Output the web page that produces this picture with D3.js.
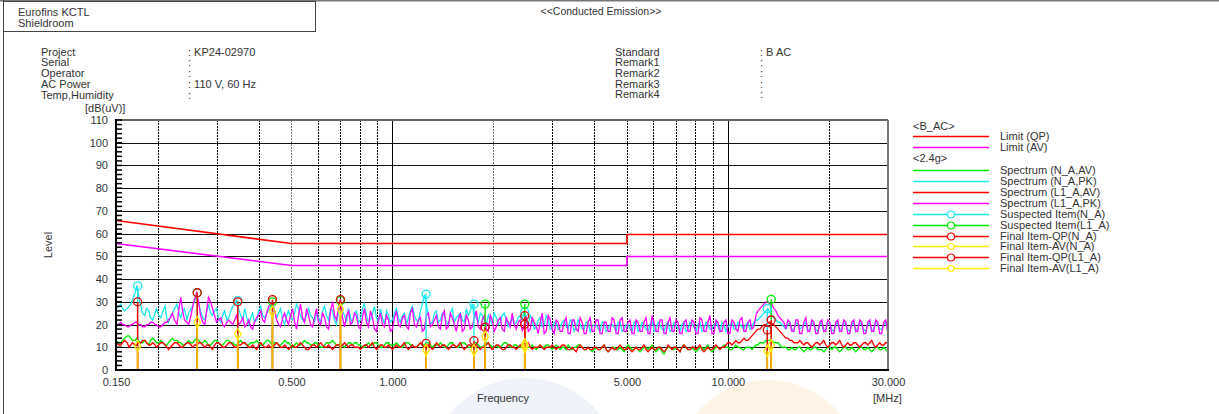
<!DOCTYPE html>
<html><head><meta charset="utf-8">
<script src="https://cdn.jsdelivr.net/npm/d3@7"></script>
<style>
body{margin:0;background:#fff;overflow:hidden}
text{font-family:"Liberation Sans",Arial,sans-serif;font-size:11px;fill:#333}
</style>
</head><body>
<svg id="chart" width="1219" height="414"></svg>
<script>
// ---------- data ----------
// sweep points (MHz)
const freqMHz = [
0.150,0.155,0.159,0.164,0.168,0.173,0.178,0.183,0.188,0.193,
0.198,0.204,0.210,0.215,0.221,0.228,0.234,0.240,0.247,0.254,
0.261,0.268,0.276,0.283,0.291,0.299,0.308,0.316,0.325,0.334,
0.343,0.353,0.363,0.373,0.383,0.394,0.405,0.416,0.428,0.439,
0.452,0.464,0.477,0.490,0.504,0.518,0.532,0.547,0.562,0.578,
0.594,0.611,0.628,0.645,0.663,0.681,0.700,0.720,0.740,0.760,
0.781,0.803,0.825,0.848,0.872,0.896,0.921,0.947,0.973,1.000,
1.028,1.056,1.086,1.116,1.147,1.179,1.212,1.245,1.280,1.315,
1.352,1.390,1.428,1.468,1.509,1.551,1.594,1.638,1.683,1.730,
1.778,1.828,1.879,1.931,1.984,2.040,2.096,2.154,2.214,2.276,
2.339,2.404,2.471,2.540,2.610,2.683,2.757,2.834,2.913,2.994,
3.077,3.162,3.250,3.340,3.433,3.529,3.627,3.728,3.831,3.938,
4.047,4.160,4.275,4.394,4.516,4.642,4.771,4.903,5.039,5.179,
5.323,5.471,5.623,5.780,5.940,6.105,6.275,6.449,6.629,6.813,
7.002,7.197,7.397,7.602,7.814,8.031,8.254,8.483,8.719,8.962,
9.211,9.467,9.730,10.00,10.28,10.56,10.86,11.16,11.47,11.79,
12.12,12.45,12.80,13.16,13.52,13.90,14.28,14.68,15.09,15.51,
15.94,16.38,16.83,17.30,17.78,18.28,18.79,19.31,19.84,20.40,
20.96,21.54,22.14,22.76,23.39,24.04,24.71,25.40,26.10,26.83,
27.57,28.34,29.13,29.94,30.00];

// interleaved sweep points (MHz)
const freqMid = [
0.153,0.157,0.162,0.166,0.171,0.175,0.180,0.185,0.190,0.196,
0.201,0.207,0.213,0.218,0.224,0.231,0.237,0.244,0.251,0.257,
0.265,0.272,0.280,0.287,0.295,0.303,0.312,0.321,0.330,0.339,
0.348,0.358,0.368,0.378,0.388,0.399,0.410,0.422,0.433,0.445,
0.458,0.471,0.484,0.497,0.511,0.525,0.540,0.555,0.570,0.586,
0.602,0.619,0.636,0.654,0.672,0.691,0.710,0.730,0.750,0.771,
0.792,0.814,0.837,0.860,0.884,0.909,0.934,0.960,0.986,1.014,
1.042,1.071,1.101,1.131,1.163,1.195,1.228,1.262,1.298,1.334,
1.371,1.409,1.448,1.488,1.529,1.572,1.616,1.661,1.707,1.754,
1.803,1.853,1.904,1.957,2.012,2.068,2.125,2.184,2.245,2.307,
2.371,2.437,2.505,2.575,2.646,2.720,2.795,2.873,2.953,3.035,
3.119,3.206,3.295,3.387,3.481,3.577,3.677,3.779,3.884,3.992,
4.103,4.217,4.334,4.455,4.578,4.706,4.836,4.971,5.109,5.251,
5.397,5.547,5.701,5.859,6.022,6.190,6.362,6.538,6.720,6.907,
7.099,7.296,7.499,7.707,7.921,8.142,8.368,8.600,8.839,9.085,
9.338,9.597,9.864,10.14,10.42,10.71,11.01,11.31,11.63,11.95,
12.28,12.62,12.98,13.34,13.71,14.09,14.48,14.88,15.29,15.72,
16.16,16.61,17.07,17.54,18.03,18.53,19.04,19.57,20.12,20.68,
21.25,21.84,22.45,23.07,23.71,24.37,25.05,25.75,26.46,27.20,
27.95,28.73,29.53];

// Spectrum (N_A,AV) dB(uV)
const spectrumNaAv = [
13,12,14,15,13,14,12,13,11,14,
12,13,11,12,14,13,12,11,13,12,
14,12,13,11,12,13,11,12,13,12,
11,13,12,11,12,13,11,12,13,11,
12,11,13,12,10,12,11,13,12,11,
12,10,11,12,13,11,12,10,12,11,
12,11,10,12,11,12,10,11,12,11,
12,10,11,12,11,10,12,11,12,10,
11,12,10,11,12,10,11,12,10,11,
12,10,11,12,10,11,10,12,11,10,
11,10,12,10,11,9,11,10,11,9,
11,9,10,11,9,10,11,9,10,8,
10,9,11,8,10,9,10,8,11,9,
10,8,10,9,11,8,10,7,10,9,
10,8,11,9,10,8,10,9,11,8,
10,9,11,10,9,11,10,9,10,9,
11,12,12,13,13,12,11,10,9,10,
9,10,8,10,9,10,9,8,10,9,
10,8,10,9,10,8,10,9,10,8,
10,9,10,8,10];
const spectrumNaAvMid = [
12,13,15,14,13,13,12,12,13,13,
12,12,11,13,13,12,11,12,12,13,
13,12,12,11,13,12,11,13,12,11,
12,12,11,12,12,12,11,13,12,12,
11,12,12,11,11,11,12,12,11,12,
11,10,12,12,12,11,11,11,12,12,
11,10,11,11,12,11,10,12,11,11,
11,10,12,11,10,11,11,12,11,11,
11,11,10,12,11,10,12,11,10,12,
11,10,12,11,10,10,11,12,10,11,
10,11,11,10,10,10,10,11,10,10,
10,10,9,10,10,11,10,9,9,9,
9,10,9,9,10,9,9,10,10,9,
9,9,10,10,9,9,8,9,10,9,
9,10,10,9,9,9,10,10,9,9,
10,10,10,9,10,10,9,10,10,10,
11,12,13,13,12,12,10,10,9,9,
10,9,9,9,10,9,9,9,10,10,
9,9,10,9,9,9,10,9,9,9,
10,9,9];

// Spectrum (N_A,PK) dB(uV)
const spectrumNaPk = [
27,29,26,28,31,37,28,24,26,22,
27,23,28,21,25,29,23,27,25,28,
33,26,22,29,24,27,21,26,23,28,
31,24,27,20,25,22,28,23,26,30,
23,27,20,26,22,29,24,21,27,23,
25,21,28,22,26,20,30,24,27,21,
26,22,29,21,25,23,27,20,24,22,
27,21,25,23,28,22,26,33,24,21,
26,22,24,20,27,23,25,21,24,29,
23,25,22,24,20,23,21,25,19,23,
21,24,26,20,22,19,23,20,22,18,
21,19,22,18,21,19,20,18,21,19,
20,17,21,18,20,17,21,18,20,17,
21,18,20,17,22,18,20,17,21,18,
20,17,21,18,20,17,21,18,20,18,
21,17,20,19,21,18,20,18,21,19,
22,23,25,27,24,22,21,19,20,18,
21,18,20,17,21,18,20,17,21,18,
20,17,21,18,20,17,21,18,20,17,
21,18,20,17,20];
const spectrumNaPkMid = [
28,27,27,29,34,33,25,27,23,25,
24,26,22,24,27,25,26,22,27,30,
29,23,26,25,26,23,24,22,26,29,
27,22,23,23,21,26,24,25,28,26,
25,22,24,23,25,27,22,25,24,21,
23,26,24,27,22,26,26,21,23,25,
21,27,24,22,28,21,23,26,21,25,
23,24,20,26,24,21,29,29,20,25,
21,25,21,25,21,24,22,27,26,24,
21,24,20,22,25,20,24,22,21,20,
23,22,21,24,18,22,19,24,18,21,
18,21,19,22,17,22,18,21,17,20,
18,21,17,20,19,21,17,20,18,21,
17,21,18,20,17,21,18,20,17,21,
18,20,17,21,19,20,17,21,18,20,
19,21,17,20,18,21,19,20,18,21,
22,24,26,25,23,21,20,18,21,17,
20,19,21,18,20,17,21,18,20,17,
21,18,20,17,21,18,20,17,21,18,
20,18,21];

// Spectrum (L1_A,AV) dB(uV)
const spectrumL1Av = [
12,11,13,10,12,11,12,13,11,12,
10,12,11,9,11,12,10,11,12,10,
11,12,10,11,9,12,11,10,12,11,
10,11,12,10,11,9,12,10,11,10,
12,10,11,9,11,10,12,10,9,11,
10,12,10,11,9,11,10,12,10,11,
10,9,11,10,12,9,11,10,11,9,
11,10,12,9,11,10,12,10,11,9,
12,10,11,9,11,10,12,9,11,10,
11,9,10,12,9,11,10,9,11,10,
9,11,10,12,9,10,11,9,10,11,
9,10,11,9,10,8,11,9,10,9,
10,9,11,8,10,9,11,9,10,8,
10,9,11,8,10,9,10,8,11,9,
10,8,11,9,10,9,11,8,10,9,
11,9,10,12,11,13,12,14,13,15,
17,18,20,21,20,19,17,15,14,13,
12,13,11,12,10,12,11,13,10,12,
11,13,10,12,11,12,10,12,11,13,
10,12,11,12,11];
const spectrumL1AvMid = [
11,12,12,11,11,12,13,12,11,11,
11,12,10,10,12,11,10,12,11,11,
12,11,11,10,11,12,10,11,12,10,
11,12,11,10,10,11,11,10,10,11,
11,10,10,10,10,11,11,9,10,11,
11,11,10,10,10,11,11,11,11,10,
10,10,11,11,10,10,11,10,10,10,
10,11,10,10,10,11,11,11,10,10,
11,11,10,10,11,11,10,10,11,11,
10,10,11,10,10,11,9,10,11,10,
10,10,11,10,10,10,10,10,10,10,
10,11,10,9,9,10,10,9,9,10,
9,10,9,9,9,10,10,9,9,9,
9,10,9,9,9,10,9,9,10,10,
9,10,10,9,10,10,9,9,9,10,
10,10,11,12,12,12,13,13,14,16,
18,19,20,21,20,18,16,14,13,12,
12,12,12,11,11,12,12,11,11,12,
12,11,11,11,12,11,11,12,12,11,
11,11,12];

// Spectrum (L1_A,PK) dB(uV)
const spectrumL1Pk = [
20,21,20,19,20,21,20,19,20,21,
20,19,21,22,25,20,32,22,20,28,
34,24,20,32,27,21,23,19,22,20,
24,21,19,22,18,23,26,21,28,30,
22,19,25,20,27,18,29,21,24,19,
27,20,23,18,30,22,31,19,26,21,
24,18,27,19,23,17,25,19,22,18,
26,19,24,18,27,19,23,18,25,20,
24,18,26,19,23,17,25,18,22,19,
26,18,24,17,22,19,23,17,21,25,
18,22,20,17,23,19,21,16,24,18,
22,17,21,16,22,18,23,16,21,17,
22,16,21,17,23,16,22,17,21,16,
22,17,21,16,24,17,22,16,21,17,
22,16,21,17,22,16,23,17,21,16,
22,17,21,16,22,18,22,17,21,18,
24,27,29,30,29,26,23,21,22,17,
22,16,21,17,22,16,21,17,22,16,
21,17,22,16,21,17,22,16,21,17,
22,16,21,17,21];
const spectrumL1PkMid = [
20,20,19,20,21,20,19,20,21,20,
19,20,21,23,22,27,26,21,24,31,
29,21,27,30,24,22,20,21,21,22,
20,23,20,19,21,24,22,25,29,26,
20,23,22,24,21,24,23,27,20,23,
21,25,19,26,24,28,23,24,20,25,
19,23,21,26,18,22,20,24,17,23,
20,23,19,25,20,22,17,24,19,22,
19,24,18,25,20,22,17,24,18,23,
19,22,18,24,17,22,18,23,19,20,
21,17,24,18,21,16,25,17,22,16,
21,17,23,16,22,17,21,16,23,17,
22,16,21,17,22,16,23,17,22,16,
21,17,23,16,21,17,22,16,23,17,
21,16,22,17,21,16,22,17,24,16,
21,17,22,16,21,17,23,17,22,19,
26,28,30,29,27,24,22,18,21,17,
22,16,23,17,21,16,22,17,21,16,
22,17,21,16,22,17,21,16,22,17,
21,16,22];

const limitFreq = [0.15, 0.5, 0.5, 5, 5, 30];
const limitQP   = [66, 56, 56, 56, 60, 60];
const limitAV   = [56, 46, 46, 46, 50, 50];

const suspNaFreq  = [0.174, 0.346, 1.26, 1.75, 2.48, 13.1];
const suspNaLevel = [37, 30.6, 33.4, 29, 25.5, 27];
const suspL1Freq  = [0.262, 0.439, 0.70, 1.89, 2.48, 13.46];
const suspL1Level = [34, 30, 30.5, 29, 29, 31.1];

const finalNaFreq = [0.174, 0.346, 1.26, 1.75, 2.48, 13.1];
const finalNaQP   = [30, 30, 11.7, 12.9, 23.9, 17.6];
const finalNaAV   = [10.5, 15.8, 8.8, 8.8, 10.2, 8.4];
const finalL1Freq = [0.262, 0.439, 0.70, 1.89, 2.48, 13.46];
const finalL1QP   = [34, 31, 31, 18.8, 20.1, 22];
const finalL1AV   = [21, 25.7, 26.7, 14.7, 11.4, 10.9];

const yTicks = [0,10,20,30,40,50,60,70,80,90,100,110];
const xTicks = [0.15, 0.5, 1, 5, 10, 30];
const xTickLabels = ["0.150","0.500","1.000","5.000","10.000","30.000"];
const gridFreq = [0.2,0.3,0.4,0.5,0.6,0.7,0.8,0.9,1,2,3,4,5,6,7,8,9,10,20];

const infoLeftLabels = ["Project","Serial","Operator","AC Power","Temp,Humidity"];
const infoLeftValues = [": KP24-02970",":",":",": 110 V, 60 Hz",":"];
const infoRightLabels = ["Standard","Remark1","Remark2","Remark3","Remark4"];
const infoRightValues = [": B AC",":",":",":",":"];

// ---------- drawing ----------
const svg = d3.select("#chart");
const L = 116, R = 888, T = 120, B = 370;
const x = d3.scaleLog().domain([0.15, 30]).range([L, R]);
const y = d3.scaleLinear().domain([0, 110]).range([B, T]);

const C = {red:"#ff0000", mag:"#ff00ff", green:"#00ee00", cyan:"#18e8f0", yellow:"#ffee00", stem:"#f7b500"};
const FONT = "Liberation Sans, Arial, sans-serif";

// watermark
svg.append("circle").attr("cx",525).attr("cy",474).attr("r",96).attr("fill","#eff2f8");
svg.append("circle").attr("cx",768).attr("cy",474).attr("r",94).attr("fill","#fdf4e6");

// page frame
svg.append("line").attr("x1",0).attr("x2",1219).attr("y1",0.5).attr("y2",0.5).attr("stroke","#777").attr("stroke-width",2);
svg.append("line").attr("x1",3.5).attr("x2",3.5).attr("y1",0).attr("y2",414).attr("stroke","#444").attr("stroke-width",1);
svg.append("rect").attr("x",3.5).attr("y",1.5).attr("width",312).attr("height",30).attr("fill","none").attr("stroke","#444");

svg.append("text").attr("x",18).attr("y",16).text("Eurofins KCTL");
svg.append("text").attr("x",18).attr("y",27).text("Shieldroom");
svg.append("text").attr("x",601).attr("y",15).attr("text-anchor","middle").style("font-size","10.5px").text("<<Conducted Emission>>");

const leftY = [55.5, 66, 76.5, 88, 99];
const rightY = [55.5, 66, 76.5, 87.5, 98];
infoLeftLabels.forEach((t,i)=>svg.append("text").attr("x",41).attr("y",leftY[i]).text(t));
infoLeftValues.forEach((t,i)=>svg.append("text").attr("x",188).attr("y",leftY[i]).text(t));
infoRightLabels.forEach((t,i)=>svg.append("text").attr("x",615).attr("y",rightY[i]).text(t));
infoRightValues.forEach((t,i)=>svg.append("text").attr("x",760).attr("y",rightY[i]).text(t));

// plot background
svg.append("rect").attr("x",L).attr("y",T).attr("width",R-L).attr("height",B-T).attr("fill","#fff");

// horizontal grid
svg.append("g").selectAll("line").data(yTicks.filter(v=>v>0 && v<110)).join("line")
  .attr("x1",L).attr("x2",R).attr("y1",d=>Math.round(y(d))+0.5).attr("y2",d=>Math.round(y(d))+0.5)
  .attr("stroke","#111").attr("stroke-width",1);

// vertical grid
svg.append("g").selectAll("line").data(gridFreq).join("line")
  .attr("x1",d=>Math.round(x(d))+0.5).attr("x2",d=>Math.round(x(d))+0.5).attr("y1",T).attr("y2",B)
  .attr("stroke",d=>(d===0.5||d===2)?"#777":"#000")
  .attr("stroke-width",1)
  .attr("stroke-dasharray",d=>(d===1||d===10)?null:"2,1");

// spectra
const line = d3.line().x(d=>x(d[0])).y(d=>y(d[1]));
function spec(vals, midVals, color){
  const pts = freqMHz.map((f,i)=>[f, vals[i]])
    .concat(freqMid.map((f,i)=>[f, midVals[i]]))
    .filter(d=>d[1]!=null)
    .sort((a,b)=>a[0]-b[0]);
  svg.append("path").datum(pts).attr("d",line).attr("fill","none").attr("stroke",color)
    .attr("stroke-width",1.3);
}
spec(spectrumNaAv, spectrumNaAvMid, C.green);
spec(spectrumNaPk, spectrumNaPkMid, C.cyan);
spec(spectrumL1Av, spectrumL1AvMid, C.red);
spec(spectrumL1Pk, spectrumL1PkMid, C.mag);

// limits (drawn on the gridline pixel rows so the colour stays clean)
const limLine = d3.line().x(d=>x(d[0])).y(d=>Math.round(y(d[1])) + 0.5);
function lim(vals,color){
  const pts = limitFreq.map((f,i)=>[f, vals[i]]);
  svg.append("path").datum(pts).attr("d",limLine).attr("fill","none").attr("stroke",color).attr("stroke-width",1.6);
}
lim(limitQP, C.red);
lim(limitAV, C.mag);

// markers
function stems(freqs, levels, color, w){
  svg.append("g").selectAll("line").data(freqs.map((f,i)=>[f,levels[i]])).join("line")
    .attr("x1",d=>x(d[0])).attr("x2",d=>x(d[0])).attr("y1",B).attr("y2",d=>y(d[1]))
    .attr("stroke",color).attr("stroke-width",w);
}
function circles(freqs, levels, color){
  svg.append("g").selectAll("circle").data(freqs.map((f,i)=>[f,levels[i]])).join("circle")
    .attr("cx",d=>x(d[0])).attr("cy",d=>y(d[1])).attr("r",4)
    .attr("fill","none").attr("stroke",color).attr("stroke-width",1.3);
}
function diamonds(freqs, levels, color){
  const sym = d3.symbol().type(d3.symbolDiamond).size(36);
  svg.append("g").selectAll("path").data(freqs.map((f,i)=>[f,levels[i]])).join("path")
    .attr("transform",d=>`translate(${x(d[0])},${y(d[1])})`).attr("d",sym)
    .attr("fill","none").attr("stroke",color).attr("stroke-width",1.3);
}
stems(suspNaFreq, suspNaLevel, C.cyan, 1.3);
stems(suspL1Freq, suspL1Level, C.green, 1.3);
stems(finalNaFreq, finalNaQP, C.red, 1.5);
stems(finalL1Freq, finalL1QP, C.red, 1.5);
stems(finalNaFreq, finalNaAV, C.stem, 1.8);
stems(finalL1Freq, finalL1AV, C.stem, 1.8);
circles(suspNaFreq, suspNaLevel, C.cyan);
circles(suspL1Freq, suspL1Level, C.green);
circles(finalNaFreq, finalNaQP, "#e00000");
circles(finalL1Freq, finalL1QP, "#e00000");
diamonds(finalNaFreq, finalNaAV, C.yellow);
diamonds(finalL1Freq, finalL1AV, C.yellow);

// borders
svg.append("line").attr("x1",L).attr("x2",R).attr("y1",T).attr("y2",T).attr("stroke","#666").attr("stroke-width",2);
svg.append("line").attr("x1",R).attr("x2",R).attr("y1",T).attr("y2",B).attr("stroke","#777").attr("stroke-width",2);
svg.append("line").attr("x1",L).attr("x2",L).attr("y1",T-1).attr("y2",B+1).attr("stroke","#000").attr("stroke-width",2);
svg.append("line").attr("x1",L-1).attr("x2",R+1).attr("y1",B).attr("y2",B).attr("stroke","#000").attr("stroke-width",2);

// minor y ticks
svg.append("g").selectAll("line").data(d3.range(0,111,2)).join("line")
  .attr("x1",L).attr("x2",L+6).attr("y1",d=>y(d)).attr("y2",d=>y(d))
  .attr("stroke","#000").attr("stroke-width",1.5);

// axes
const ya = svg.append("g").attr("transform",`translate(${L},0)`)
  .call(d3.axisLeft(y).tickValues(yTicks).tickSize(0).tickPadding(8));
ya.select(".domain").remove();
ya.selectAll("text").style("font-size","11px").style("font-family",FONT).attr("fill","#333");

const xa = svg.append("g").attr("transform",`translate(0,${B})`)
  .call(d3.axisBottom(x).tickValues(xTicks).tickSize(0).tickPadding(8).tickFormat((d,i)=>xTickLabels[i]));
xa.select(".domain").remove();
xa.selectAll("text").style("font-size","11px").style("font-family",FONT).attr("fill","#333");

svg.append("text").attr("x",85).attr("y",112).text("[dB(uV)]");
svg.append("text").attr("transform","translate(52,245) rotate(-90)").attr("text-anchor","middle").text("Level");
svg.append("text").attr("x",503).attr("y",402).attr("text-anchor","middle").text("Frequency");
svg.append("text").attr("x",873).attr("y",402).text("[MHz]");

// legend
const legend = [
  {t:"<B_AC>", head:true, y:126},
  {t:"Limit (QP)", c:C.red, y:136},
  {t:"Limit (AV)", c:C.mag, y:147},
  {t:"<2.4g>", head:true, y:158},
  {t:"Spectrum (N_A,AV)", c:C.green, y:170},
  {t:"Spectrum (N_A,PK)", c:C.cyan, y:181},
  {t:"Spectrum (L1_A,AV)", c:C.red, y:192},
  {t:"Spectrum (L1_A,PK)", c:C.mag, y:203},
  {t:"Suspected Item(N_A)", c:C.cyan, m:"o", y:214},
  {t:"Suspected Item(L1_A)", c:C.green, m:"o", y:225},
  {t:"Final Item-QP(N_A)", c:C.red, m:"o", y:236},
  {t:"Final Item-AV(N_A)", c:C.yellow, m:"d", y:246},
  {t:"Final Item-QP(L1_A)", c:C.red, m:"o", y:257},
  {t:"Final Item-AV(L1_A)", c:C.yellow, m:"d", y:268}
];
const lg = svg.append("g");
legend.forEach(e=>{
  if(e.head){ lg.append("text").attr("x",913).attr("y",e.y+4).text(e.t); return; }
  lg.append("line").attr("x1",913).attr("x2",989).attr("y1",e.y+0.5).attr("y2",e.y+0.5).attr("stroke",e.c).attr("stroke-width",1.3);
  if(e.m==="o") lg.append("circle").attr("cx",951).attr("cy",e.y+0.5).attr("r",3.5).attr("fill","#fff").attr("stroke",e.c).attr("stroke-width",1.2);
  if(e.m==="d") lg.append("circle").attr("cx",951).attr("cy",e.y+0.5).attr("r",3).attr("fill","#fff").attr("stroke",e.c).attr("stroke-width",1.2);
  lg.append("text").attr("x",1000).attr("y",e.y+4).text(e.t);
});
</script>
</body></html>
